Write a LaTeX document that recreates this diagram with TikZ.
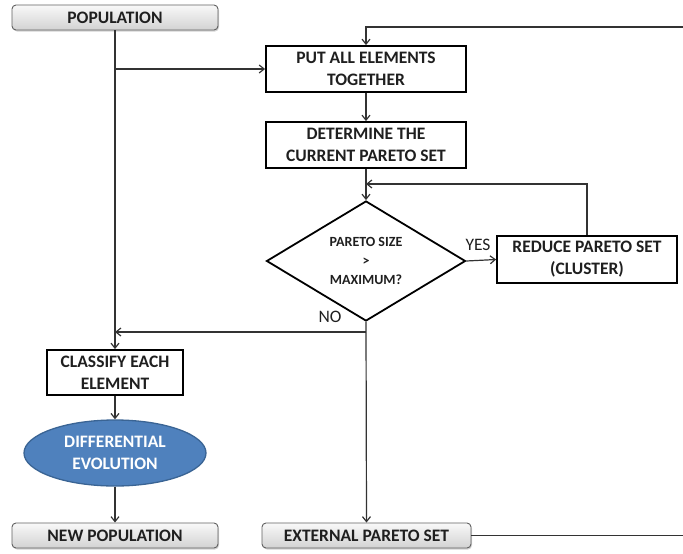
\documentclass[tikz,border=0pt]{standalone}
\usepackage{fontspec}
\setmainfont{Carlito}
\usetikzlibrary{shapes.geometric,arrows.meta,shadows}
\definecolor{txt}{HTML}{1F1F1F}
\definecolor{deblue}{HTML}{4F81BD}
\definecolor{deedge}{HTML}{3A6494}
\begin{document}
\begin{tikzpicture}[x=1pt,y=-1pt,
  font=\bfseries\fontsize{17.5}{22}\selectfont,
  proc/.style={draw=black,line width=1.8pt,fill=white,text=txt,minimum width=200pt,
    minimum height=46pt,align=center,inner sep=1pt},
  term/.style={draw=gray!75!black,line width=0.9pt,rounded corners=4pt,
    top color=gray!5,bottom color=gray!35,text=txt,minimum height=25pt,
    drop shadow={shadow xshift=1pt,shadow yshift=-1.5pt,opacity=0.35},inner sep=1pt},
  conn/.style={draw=black!80,line width=1.2pt},
  arr/.style={conn,-{Straight Barb[length=5pt,width=8pt]}},
  lbl/.style={font=\fontsize{17.5}{20}\selectfont,text=txt}
]
\useasboundingbox (0,0) rectangle (683,554);

% terminals
\node[term,minimum width=206pt] (pop) at (115,17.5) {POPULATION};
\node[term,minimum width=206pt] (newpop) at (115,535.5) {NEW POPULATION};
\node[term,minimum width=209pt] (ext) at (366.5,535.5) {EXTERNAL PARETO SET};

% process boxes
\node[proc] (put) at (366,69) {PUT ALL ELEMENTS\\TOGETHER};
\node[proc] (det) at (366,145) {DETERMINE THE\\CURRENT PARETO SET};
\node[proc,minimum width=180pt,minimum height=47pt] (red) at (587,259.5) {REDUCE PARETO SET\\(CLUSTER)};
\node[proc,minimum width=136pt,minimum height=45pt] (cls) at (115,372.5) {CLASSIFY EACH\\ELEMENT};

% decision
\node[draw=black,line width=1.8pt,diamond,aspect=1.66,minimum width=199pt,minimum height=120pt,
  inner sep=0pt,text=txt,align=center,font=\bfseries\fontsize{14}{19}\selectfont]
  (dec) at (366,261) {PARETO SIZE\\>\\MAXIMUM?};

% differential evolution
\node[ellipse,draw=deedge,line width=1.3pt,fill=deblue,text=white,align=center,
  minimum width=182pt,minimum height=66pt,inner sep=0pt] (de) at (115,453)
  {DIFFERENTIAL\\EVOLUTION};

% helper points
\coordinate (split) at (pop.south |- put.west);
\coordinate (join) at (pop.south |- 0,332);
\coordinate (nojoin) at (dec.south |- 0,332);
\coordinate (fb) at (dec.north |- 0,184);
\coordinate (loopin) at (683,27);
\coordinate (looptop) at (put.north |- loopin);
\coordinate (loopout) at (683,535.5);

% connectors
\draw[arr] (pop.south) -- (cls.north);
\draw[arr] (split) -- (put.west);
\draw[arr] (loopin) -- (looptop) -- (put.north);
\draw[arr] (put.south) -- (det.north);
\draw[arr] (det.south) -- (dec.north);
\draw[arr] (red.north) |- (fb);
\draw[arr] (dec.east) -- (red.west);
\draw[arr] (dec.south) -- (ext.north);
\draw[arr] (nojoin) -- (join);
\draw[arr] (cls.south) -- (de.north);
\draw[arr] (de.south) -- (newpop.north);
\draw[conn] (ext.east) -- (loopout);

% branch labels
\node[lbl] (yes) at (478,245) {YES};
\node[lbl] (no) at (330,317) {NO};
\end{tikzpicture}
\end{document}
